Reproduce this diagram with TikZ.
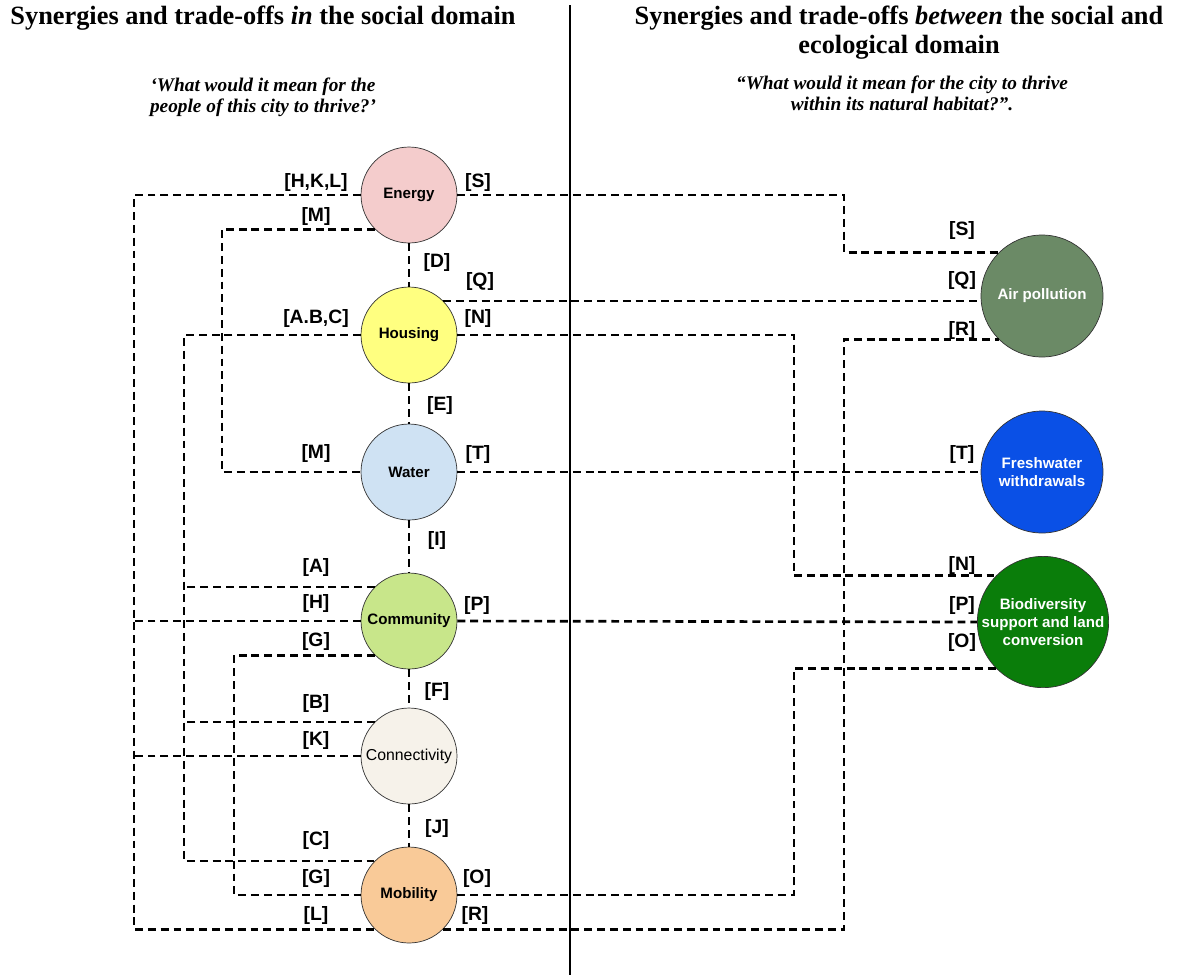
\documentclass[tikz,border=0pt]{standalone}
\usepackage{fontspec}
\setmainfont{Liberation Serif}
\setsansfont{Liberation Sans}

\definecolor{energyPink}{HTML}{F4CCCC}
\definecolor{housingYellow}{HTML}{FFFF80}
\definecolor{waterBlue}{HTML}{CFE2F3}
\definecolor{communityGreen}{HTML}{C8E68A}
\definecolor{connectWhite}{HTML}{F6F2EA}
\definecolor{mobilityOrange}{HTML}{F9CA98}
\definecolor{airGreen}{HTML}{6B8A66}
\definecolor{freshBlue}{HTML}{0A50E6}
\definecolor{bioGreen}{HTML}{0A7D0A}

\tikzset{
  social/.style={circle, draw=black!80, thin, minimum size=1.92cm, inner sep=0pt,
    align=center, font=\sffamily\bfseries\fontsize{8.6}{10.2}\selectfont},
  ecology/.style={social, minimum size=2.44cm, text=white},
  link/.style={line width=1.5pt, dash pattern=on 4.5pt off 2.8pt},
  tag/.style={inner sep=0pt, font=\sffamily\bfseries\fontsize{11}{13}\selectfont},
  headline/.style={align=center, font=\bfseries\fontsize{15}{16.5}\selectfont},
  question/.style={align=center, font=\bfseries\itshape\fontsize{11}{11.9}\selectfont}
}

\begin{document}
\begin{tikzpicture}[x=0.02cm, y=-0.02cm]

    % Fix the page to the size of the picture
    \useasboundingbox (0,0) rectangle (1179,975);

    % Headings of the two halves
    \node[headline] (titleL) at (263,18) {Synergies and trade-offs \textit{in} the social domain};
    \node[headline] (titleR) at (899,33) {Synergies and trade-offs \textit{between} the social and\\ecological domain};
    \node[question] (askL) at (263,97) {‘What would it mean for the\\people of this city to thrive?’};
    \node[question] (askR) at (902,93) {“What would it mean for the city to thrive\\within its natural habitat?”.};

    % Line between the two domains
    \coordinate (divTop) at (570,5);
    \coordinate (divBot) at (570,975);
    \draw[line width=0.8pt] (divTop) -- (divBot);

    % Social domain circles
    \node[social, fill=energyPink] (energy) at (409,195) {Energy};
    \node[social, fill=housingYellow] (housing) at (409,335) {Housing};
    \node[social, fill=waterBlue] (water) at (409,472) {Water};
    \node[social, fill=communityGreen] (community) at (409,621) {Community};
    \node[social, fill=connectWhite, font=\sffamily\fontsize{9}{11}\selectfont] (connect) at (409,756) {Connectivity};
    \node[social, fill=mobilityOrange] (mobility) at (409,895) {Mobility};

    % Ecological domain circles
    \node[ecology, fill=airGreen] (air) at (1042,296) {Air pollution};
    \node[ecology, fill=freshBlue] (fresh) at (1042,472) {Freshwater\\withdrawals};
    \node[ecology, fill=bioGreen] (bio) at (1043,622) {Biodiversity\\support and land\\conversion};

    % x positions of the vertical runs
    \coordinate (hklX) at (134,0);
    \coordinate (abcX) at (184,0);
    \coordinate (mX) at (222,0);
    \coordinate (gX) at (234,0);
    \coordinate (noX) at (794,0);
    \coordinate (srX) at (844,0);

    % Links down the social column
    \draw[link] (energy) -- (housing);
    \draw[link] (housing) -- (water);
    \draw[link] (water) -- (community);
    \draw[link] (community) -- (connect);
    \draw[link] (connect) -- (mobility);

    % Links on the left of the social column
    \draw[link] (energy.west) -- (energy.west -| hklX) |- (mobility.225);
    \draw[link] (community.west) -- (community.west -| hklX);
    \draw[link] (connect.west) -- (connect.west -| hklX);
    \draw[link] (energy.225) -- (energy.225 -| mX) |- (water.west);
    \draw[link] (housing.west) -- (housing.west -| abcX) |- (mobility.135);
    \draw[link] (community.135) -- (community.135 -| abcX);
    \draw[link] (connect.135) -- (connect.135 -| abcX);
    \draw[link] (community.225) -- (community.225 -| gX) |- (mobility.west);

    % Links across to the ecological domain
    \draw[link] (energy.east) -- (energy.east -| srX) |- (air.135);
    \draw[link] (housing.45) -- (housing.45 -| air.west);
    \draw[link] (mobility.315) -- (mobility.315 -| srX) |- (air.225);
    \draw[link] (water.east) -- (fresh.west);
    \draw[link] (housing.east) -- (housing.east -| noX) |- (bio.135);
    \draw[link] (community.east) -- (bio.west);
    \draw[link] (mobility.east) -- (mobility.east -| noX) |- (bio.225);

    % Labels left of the social column
    \node[tag] (tHKL) at (316,182) {[H,K,L]};
    \node[tag] (tM1) at (316,216) {[M]};
    \node[tag] (tABC) at (316,318) {[A.B,C]};
    \node[tag] (tM2) at (316,453) {[M]};
    \node[tag] (tA) at (316,567) {[A]};
    \node[tag] (tH) at (316,603) {[H]};
    \node[tag] (tG1) at (316,641) {[G]};
    \node[tag] (tB) at (316,703) {[B]};
    \node[tag] (tK) at (316,740) {[K]};
    \node[tag] (tC) at (316,840) {[C]};
    \node[tag] (tG2) at (316,878) {[G]};
    \node[tag] (tL) at (316,915) {[L]};

    % Labels between the social circles
    \node[tag] (tD) at (437,262) {[D]};
    \node[tag] (tE) at (440,405) {[E]};
    \node[tag] (tI) at (437,540) {[I]};
    \node[tag] (tF) at (437,691) {[F]};
    \node[tag] (tJ) at (437,828) {[J]};

    % Labels right of the social column
    \node[tag] (tS1) at (478,182) {[S]};
    \node[tag] (tQ1) at (480,281) {[Q]};
    \node[tag] (tN1) at (478,318) {[N]};
    \node[tag] (tT1) at (478,454) {[T]};
    \node[tag] (tP1) at (477,605) {[P]};
    \node[tag] (tO1) at (477,878) {[O]};
    \node[tag] (tR1) at (475,915) {[R]};

    % Labels next to the ecological circles
    \node[tag] (tS2) at (962,230) {[S]};
    \node[tag] (tQ2) at (962,280) {[Q]};
    \node[tag] (tR2) at (962,330) {[R]};
    \node[tag] (tT2) at (962,454) {[T]};
    \node[tag] (tN2) at (962,565) {[N]};
    \node[tag] (tP2) at (962,605) {[P]};
    \node[tag] (tO2) at (962,642) {[O]};

\end{tikzpicture}
\end{document}
